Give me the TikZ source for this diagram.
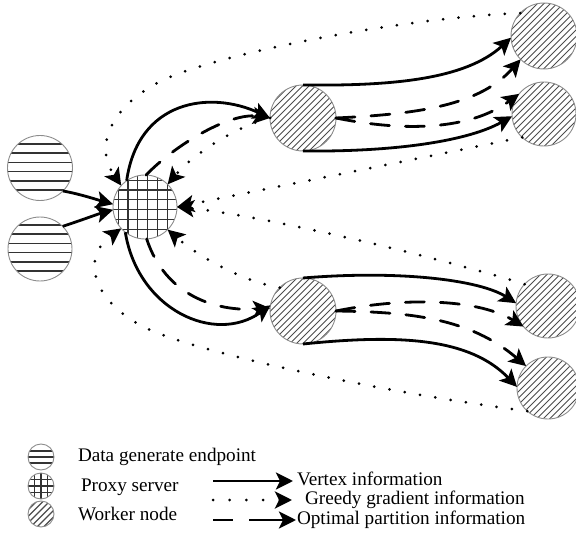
\documentclass[tikz,border=0pt]{standalone}
\usepackage{fontspec}
\setmainfont{Liberation Serif}
\usetikzlibrary{arrows.meta,calc}
\begin{document}
\begin{tikzpicture}[x=1pt,y=-1pt,
  every node/.style={inner sep=0pt, outer sep=0pt, font=\fontsize{19.2pt}{23pt}\selectfont},
  disc/.style={circle, draw=black!45, line width=0.9pt, minimum size=#1},
  patline/.style={line width=#1, black!80},
  datapat/.style={path picture={\foreach \o in {-24,-14.8,...,30}{\draw[patline=1.5pt] ($(path picture bounding box.center)+(-40,\o)$) -- ++(80,0);}}},
  proxypat/.style={path picture={\foreach \o in {-26.8,-17,...,30}{\draw[patline=1.2pt] ($(path picture bounding box.center)+(-40,\o)$) -- ++(80,0); \draw[patline=1.2pt] ($(path picture bounding box.center)+(\o,-40)$) -- ++(0,80);}}},
  workerpat/.style={path picture={\foreach \o in {-78,-71.5,...,78}{\draw[line width=1pt, black!70] ($(path picture bounding box.center)+({\o-40},40)$) -- ++(80,-80);}}},
  datapatS/.style={path picture={\foreach \o in {-6,0,6}{\draw[patline=1.3pt] ($(path picture bounding box.center)+(-20,\o)$) -- ++(40,0);}}},
  proxypatS/.style={path picture={\foreach \o in {-6.5,0,6.5}{\draw[patline=1.3pt] ($(path picture bounding box.center)+(-20,\o)$) -- ++(40,0); \draw[patline=1.3pt] ($(path picture bounding box.center)+(\o,-20)$) -- ++(0,40);}}},
  workerpatS/.style={path picture={\foreach \o in {-30,-23.5,...,30}{\draw[line width=1.1pt, black!70] ($(path picture bounding box.center)+({\o-20},20)$) -- ++(40,-40);}}},
  tip/.style={-{Stealth[length=17pt,width=17pt,inset=4pt]}},
  vtx/.style={line width=2.8pt, tip},
  grd/.style={line width=3pt, line cap=round, dash pattern=on 0pt off 15.5pt, tip},
  opt/.style={line width=2.8pt, line cap=round, dash pattern=on 19pt off 16pt, tip}
]
\useasboundingbox (0,0) rectangle (576,540);
\clip (0,0) rectangle (576,540);

% nodes
\node[disc=65pt, datapat] (D1) at (40,168) {};
\node[disc=64pt, datapat] (D2) at (40,249) {};
\node[disc=64pt, proxypat] (P) at (145,207) {};
\node[disc=66pt, workerpat] (W1) at (303,118) {};
\node[disc=66pt, workerpat] (W2) at (303,311) {};
\node[disc=66pt, workerpat] (T1) at (544,36) {};
\node[disc=64pt, workerpat] (T2) at (544,114) {};
\node[disc=64pt, workerpat] (B1) at (548,306) {};
\node[disc=62pt, workerpat] (B2) at (548,388) {};

% vertex information (solid)
\draw[vtx] (D1.-45) .. controls (80,194) and (98,200) .. (P.175);
\draw[vtx] (D2.45) .. controls (82,220) and (98,214) .. (P.185);
\draw[vtx] (P.125) .. controls (138,100) and (210,90) .. (W1.180);
\draw[vtx] (P.232) .. controls (138,310) and (215,345) .. (W2.170);
\draw[vtx] (W1.90) .. controls (390,86) and (465,80) .. (T1.183);
\draw[vtx] (W1.-90) .. controls (400,152) and (470,140) .. (T2.184);
\draw[vtx] (W2.90) .. controls (400,270) and (480,280) .. (B1.175);
\draw[vtx] (W2.-90) .. controls (400,334) and (470,338) .. (B2.178);

% optimal partition information (dashed)
\draw[opt] (P.88) .. controls (175,145) and (230,112) .. (W1.180);
\draw[opt] (P.-87) .. controls (165,295) and (215,312) .. (W2.175);
\draw[opt] (W1.0) .. controls (420,114) and (480,105) .. (T1.225);
\draw[opt] (W1.0) .. controls (405,132) and (470,130) .. (T2.141);
\draw[opt] (W2.0) .. controls (410,296) and (480,300) .. (B1.220);
\draw[opt] (W2.0) .. controls (410,312) and (470,318) .. (B2.135);

% greedy gradient information (dotted)
\draw[grd] (W1.180) .. controls (240,125) and (195,152) .. (P.45);
\draw[grd] (T2.227) -- (P.0);
\draw[grd] (B1.137) .. controls (430,255) and (260,215) .. (P.0);
\draw[grd] (W2.135) .. controls (245,282) and (200,258) .. (P.-45);
\draw[grd] (T1.136) .. controls (400,18) and (230,52) .. (170,77) .. controls (120,98) and (90,140) .. (P.138);
\draw[grd] (B2.228) .. controls (400,395) and (230,360) .. (160,334) .. controls (100,312) and (75,262) .. (P.222);

% legend
\node[disc=26pt, datapatS] (L1) at (41,457) {};
\node[disc=26pt, proxypatS] (L2) at (41,486) {};
\node[disc=26pt, workerpatS] (L3) at (41,514) {};
\node[anchor=base west] (t1) at (78,461) {Data generate endpoint};
\node[anchor=base west] (t2) at (81,491) {Proxy server};
\node[anchor=base west] (t3) at (78,520) {Worker node};

\coordinate (a1s) at (213,481); \coordinate (a1e) at (293,481);
\coordinate (a2s) at (213,500); \coordinate (a2e) at (292,500);
\coordinate (a3s) at (213,520); \coordinate (a3e) at (296,520);
\draw[vtx] (a1s) -- (a1e);
\draw[grd, dash pattern=on 0pt off 16.7pt] (a2s) -- (a2e);
\draw[opt, line cap=butt, dash pattern=on 20pt off 16pt on 60pt off 0pt] (a3s) -- (a3e);
\node[anchor=base west] (t4) at (297,485) {Vertex information};
\node[anchor=base west] (t5) at (305,504) {Greedy gradient information};
\node[anchor=base west] (t6) at (297,524) {Optimal partition information};
\end{tikzpicture}
\end{document}
